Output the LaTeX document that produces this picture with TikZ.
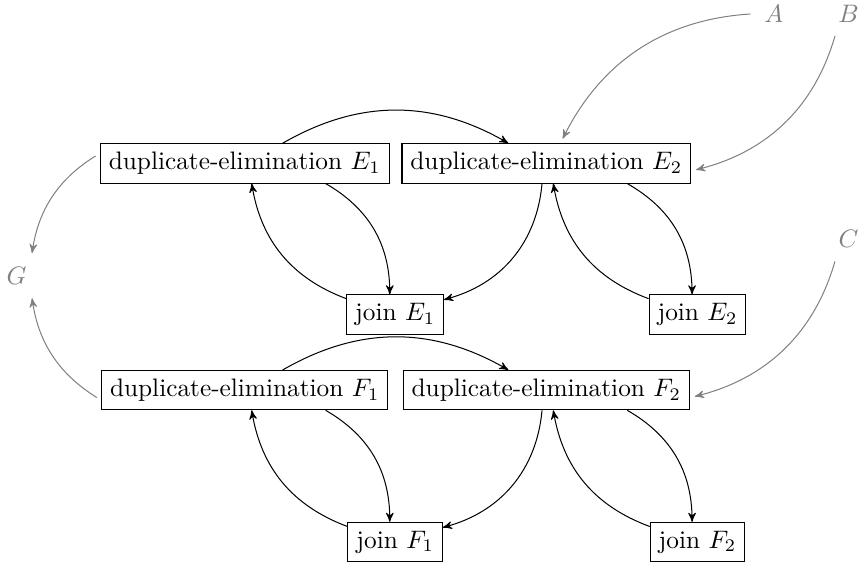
\documentclass[tikz,border=0pt]{standalone}
\usetikzlibrary{arrows}
\begin{document}
\begin{tikzpicture}[>=stealth',
  opbox/.style={draw},
  srclabel/.style={gray},
  feed/.style={->,gray,shorten >=2pt,shorten <=2pt}]
  \useasboundingbox (0,0) rectangle (11.92,-7.85);
  \node[opbox] (dupE1) at (3.40,-2.27){duplicate-elimination $E_1$};
  \node[opbox] (dupE2) at (7.59,-2.27){duplicate-elimination $E_2$};
  \node[opbox] (joinE1) at (5.49,-4.37){join $E_1$};
  \node[opbox] (joinE2) at (9.69,-4.37){join $E_2$};
  \node[opbox] (dupF1) at (3.40,-5.42){duplicate-elimination $F_1$};
  \node[opbox] (dupF2) at (7.59,-5.42){duplicate-elimination $F_2$};
  \node[opbox] (joinF1) at (5.49,-7.53){join $F_1$};
  \node[opbox] (joinF2) at (9.69,-7.53){join $F_2$};
  \node[srclabel] (A) at (10.75,-0.19){$A$};
  \node[srclabel] (B) at (11.79,-0.19){$B$};
  \node[srclabel] (C) at (11.79,-3.32){$C$};
  \node[srclabel] (G) at (0.23,-3.83){$G$};
  % E group
  \draw[->] (dupE1.28) to[bend left=30] (dupE2.152);
  \draw[->] (dupE1.-14) to[bend left=30] (joinE1.105);
  \draw[->] (joinE1.162) to[bend left=30] (dupE1.-71);
  \draw[->] (dupE2.-102) to[bend left=35] (joinE1.17);
  \draw[->] (dupE2.-14) to[bend left=30] (joinE2.105);
  \draw[->] (joinE2.162) to[bend left=30] (dupE2.-71);
  % F group
  \draw[->] (dupF1.28) to[bend left=30] (dupF2.152);
  \draw[->] (dupF1.-14) to[bend left=30] (joinF1.105);
  \draw[->] (joinF1.162) to[bend left=30] (dupF1.-71);
  \draw[->] (dupF2.-102) to[bend left=35] (joinF1.17);
  \draw[->] (dupF2.-14) to[bend left=30] (joinF2.105);
  \draw[->] (joinF2.162) to[bend left=30] (dupF2.-71);
  % inputs and output
  \draw[feed] (A.west) to[bend right=30] (dupE2.55);
  \draw[feed] (B.-125) to[bend left=30] (dupE2.-3);
  \draw[feed] (C.-125) to[bend left=30] (dupF2.-3);
  \draw[feed] (dupE1.176) to[bend right=25] (G.50);
  \draw[feed] (dupF1.184) to[bend left=25] (G.-50);
\end{tikzpicture}
\end{document}
